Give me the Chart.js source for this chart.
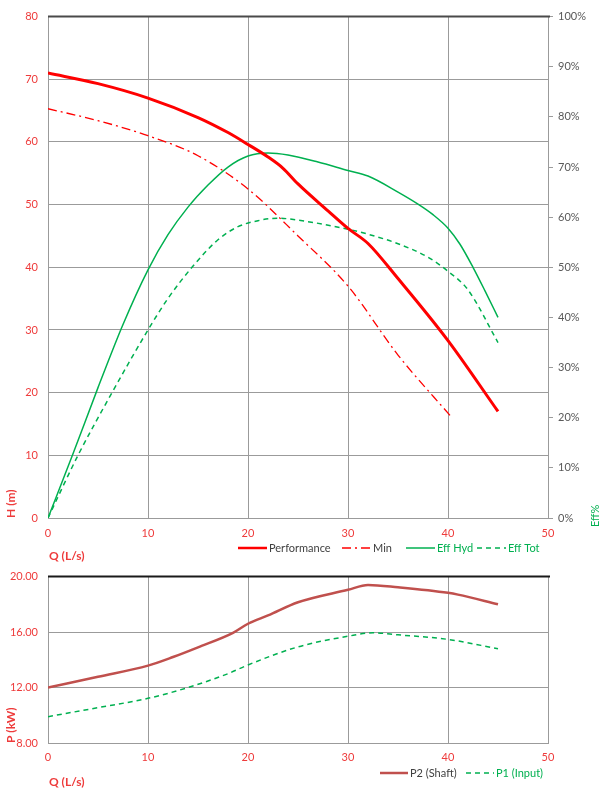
<!DOCTYPE html>
<html>
<head>
<meta charset="utf-8">
<script src="https://cdn.jsdelivr.net/npm/chart.js@4.4.0/dist/chart.umd.min.js"></script>
<style>
  html, body { margin: 0; padding: 0; background: #fff; }
  #wrap { position: relative; width: 600px; height: 791px; }
  canvas { position: absolute; left: 0; }
  #pumpChart { top: 0; }
  #powerChart { top: 560px; }
</style>
</head>
<body>
<div id="wrap">
  <canvas id="pumpChart" width="600" height="568"></canvas>
  <canvas id="powerChart" width="600" height="231"></canvas>
</div>
<script>
// ---- data (Q in L/s) ----
const qPerf = [0, 5, 10, 15, 18, 20, 22, 23.5, 25, 28, 30, 32, 35, 40, 45];
const hPerf = [71, 69.3, 67, 63.9, 61.5, 59.6, 57.6, 55.8, 53.3, 49, 46.2, 43.8, 38.2, 28.3, 17];

const qMin = [0, 5, 10, 15, 20, 25, 30, 35, 40.4];
const hMin = [65.3, 63.4, 61, 57.8, 52.5, 45, 37, 26, 16];

const qHyd = [0, 2.5, 5, 7.5, 10, 12, 14, 16, 18, 20, 22, 24, 27, 30, 32, 35, 37, 38.5, 40, 41.2, 42.5, 43.7, 45];
const effHyd = [0, 12.8, 26, 38.6, 49.5, 56.5, 62, 66.4, 70, 72.2, 72.8, 72.4, 71, 69.3, 68.2, 65, 62.6, 60.5, 57.8, 54.6, 50, 45.3, 40];

const qTot = [0, 3, 6.4, 10, 12, 14.4, 17, 19, 21, 23, 25, 30, 32, 35, 38, 40, 42, 45];
const effTot = [0, 12.5, 25, 37.5, 43.8, 50, 55.5, 58.1, 59.3, 59.8, 59.4, 57.6, 56.6, 54.7, 52, 49.2, 45.5, 35];

const qP2 = [0, 5, 10, 12.5, 15, 18.5, 20, 22, 25, 30, 32, 35, 40, 41, 45];
const pShaft = [12.0, 12.78, 13.58, 14.2, 14.9, 15.94, 16.6, 17.2, 18.15, 19.05, 19.4, 19.23, 18.83, 18.7, 18.0];

const qP1 = [0, 5, 10, 14, 18, 20, 25, 30, 32.5, 35, 40, 45];
const pInput = [9.9, 10.55, 11.22, 12.0, 13.0, 13.63, 14.93, 15.7, 15.95, 15.8, 15.47, 14.8];

const qTicks = [0, 10, 20, 30, 40, 50];

// ---- styling ----
const FONT = 'Lato, "Open Sans", sans-serif';
const RED = '#ff0000';
const GREEN = '#00b050';
const LABEL_RED = '#ee3b3b';
const GRID = '#9b9b9b';

const pts = (xs, ys) => xs.map((x, i) => ({ x: x, y: ys[i] }));

// draws the excel-like bits: top frame, Q label, legend, rotated right title
const sheetExtras = {
  id: 'sheetExtras',
  afterDraw(chart, args, opts) {
    const ctx = chart.ctx;
    const a = chart.chartArea;
    ctx.save();
    ctx.strokeStyle = opts.frameColor;
    ctx.lineWidth = 2;
    ctx.beginPath();
    ctx.moveTo(a.left, a.top);
    ctx.lineTo(a.right + 2, a.top);
    ctx.stroke();

    ctx.textBaseline = 'middle';
    ctx.textAlign = 'left';
    ctx.font = 'bold 12px ' + FONT;
    ctx.fillStyle = LABEL_RED;
    ctx.fillText('Q (L/s)', a.left + 1, opts.qY);

    ctx.font = '11px ' + FONT;
    chart.data.datasets.forEach((ds, i) => {
      const x = opts.legendX[i];
      const y = opts.legendY;
      ctx.setLineDash(ds.borderDash || []);
      ctx.strokeStyle = ds.borderColor;
      ctx.lineWidth = Math.min(ds.borderWidth, 2.5);
      ctx.beginPath();
      ctx.moveTo(x, y);
      ctx.lineTo(x + opts.sampleW, y);
      ctx.stroke();
      ctx.setLineDash([]);
      ctx.fillStyle = opts.legendColors[i];
      ctx.fillText(ds.label, x + opts.sampleW + 2, y);
    });

    if (opts.rightTitle) {
      ctx.translate(opts.rightTitleX, opts.rightTitleY);
      ctx.rotate(-Math.PI / 2);
      ctx.font = '11px ' + FONT;
      ctx.fillStyle = GREEN;
      ctx.fillText(opts.rightTitle, 0, 0);
    }
    ctx.restore();
  }
};

const xScale = (pad, height) => ({
  type: 'linear', min: 0, max: 50,
  afterBuildTicks: s => { s.ticks = qTicks.map(v => ({ value: v })); },
  ticks: { color: LABEL_RED, font: { family: FONT, size: 11 }, padding: pad },
  grid: { color: GRID, drawTicks: false },
  border: { color: GRID },
  afterFit: s => { s.height = height; }
});

new Chart(document.getElementById('pumpChart'), {
  type: 'scatter',
  data: {
    datasets: [
      { label: 'Performance', data: pts(qPerf, hPerf), yAxisID: 'y', borderColor: RED, borderWidth: 3 },
      { label: 'Min', data: pts(qMin, hMin), yAxisID: 'y', borderColor: RED, borderWidth: 1.3, borderDash: [9, 4, 2, 4] },
      { label: 'Eff Hyd', data: pts(qHyd, effHyd), yAxisID: 'y2', borderColor: GREEN, borderWidth: 1.5 },
      { label: 'Eff Tot', data: pts(qTot, effTot), yAxisID: 'y2', borderColor: GREEN, borderWidth: 1.5, borderDash: [5, 4] }
    ]
  },
  options: {
    responsive: false,
    animation: false,
    showLine: true,
    elements: { point: { radius: 0 }, line: { cubicInterpolationMode: 'monotone' } },
    layout: { padding: { top: 10 } },
    plugins: {
      legend: { display: false },
      tooltip: { enabled: false },
      sheetExtras: {
        frameColor: '#4a4a4a',
        qY: 556,
        legendY: 548,
        legendX: [238, 342, 406, 477],
        sampleW: 29,
        legendColors: ['#404040', '#404040', GREEN, GREEN],
        rightTitle: 'Eff%',
        rightTitleX: 595,
        rightTitleY: 527
      }
    },
    scales: {
      x: xScale(9, 50),
      y: {
        position: 'left', min: 0, max: 80,
        ticks: { stepSize: 10, color: LABEL_RED, font: { family: FONT, size: 11 }, padding: 10 },
        grid: { color: GRID, drawTicks: false },
        border: { color: GRID },
        title: { display: true, text: 'H (m)', align: 'start', color: LABEL_RED, font: { family: FONT, size: 12, weight: 'bold' }, padding: { top: 4 } },
        afterFit: s => { s.width = 48; }
      },
      y2: {
        position: 'right', min: 0, max: 100,
        ticks: { stepSize: 10, color: '#595959', font: { family: FONT, size: 11 }, padding: 5, callback: v => v + '%' },
        grid: { drawOnChartArea: false, color: GRID, tickLength: 5 },
        border: { color: GRID },
        afterFit: s => { s.width = 52; }
      }
    }
  },
  plugins: [sheetExtras]
});

new Chart(document.getElementById('powerChart'), {
  type: 'scatter',
  data: {
    datasets: [
      { label: 'P2 (Shaft)', data: pts(qP2, pShaft), borderColor: '#c0504d', borderWidth: 2.5 },
      { label: 'P1 (Input)', data: pts(qP1, pInput), borderColor: GREEN, borderWidth: 1.5, borderDash: [5, 4] }
    ]
  },
  options: {
    responsive: false,
    animation: false,
    showLine: true,
    elements: { point: { radius: 0 }, line: { cubicInterpolationMode: 'monotone' } },
    layout: { padding: { top: 13, right: 52 } },
    plugins: {
      legend: { display: false },
      tooltip: { enabled: false },
      sheetExtras: {
        frameColor: '#1a1a1a',
        qY: 222,
        legendY: 213,
        legendX: [380, 466],
        sampleW: 28,
        legendColors: ['#404040', GREEN]
      }
    },
    scales: {
      x: xScale(8, 48),
      y: {
        min: 8, max: 20,
        ticks: { stepSize: 4, color: LABEL_RED, font: { family: FONT, size: 11 }, padding: 10, callback: v => v.toFixed(2) },
        grid: { color: GRID, drawTicks: false },
        border: { color: GRID },
        title: { display: true, text: 'P (kW)', align: 'start', color: LABEL_RED, font: { family: FONT, size: 12, weight: 'bold' }, padding: { top: 4 } },
        afterFit: s => { s.width = 48; }
      }
    }
  },
  plugins: [sheetExtras]
});
</script>
</body>
</html>
